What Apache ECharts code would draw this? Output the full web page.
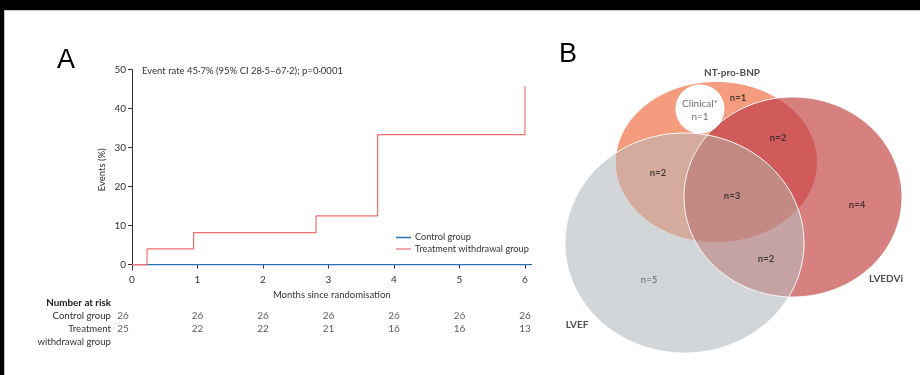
<!DOCTYPE html>
<html><head><meta charset="utf-8">
<script src="https://cdn.jsdelivr.net/npm/echarts@6/dist/echarts.min.js"></script>
<style>html,body{margin:0;padding:0;background:#fff}#c{width:920px;height:375px}</style>
</head><body><div id="c"></div>
<script>
// ---------- Panel A data ----------
const months = [0, 1, 2, 3, 4, 5, 6];
const riskGroups = ['Control group', 'Treatment withdrawal group'];
const controlAtRisk = [26, 26, 26, 26, 26, 26, 26];
const treatmentAtRisk = [25, 22, 22, 21, 16, 16, 13];
const controlTimes = [0, 6.08];
const controlEvents = [0, 0];
const treatmentTimes = [0, 0.23, 0.94, 2.81, 3.75, 6];
const treatmentEvents = [0, 4.0, 8.2, 12.5, 33.3, 45.7];
const yTicks = [0, 10, 20, 30, 40, 50];
const eventRateText = 'Event rate 45·7% (95% CI 28·5–67·2); p=0·0001';

// ---------- Panel B data ----------
const vennSetNames = ['NT-pro-BNP', 'LVEDVi', 'LVEF'];
const vennRegionNames = ['NT-pro-BNP only', 'NT-pro-BNP+LVEDVi', 'NT-pro-BNP+LVEF', 'All three', 'LVEDVi only', 'LVEDVi+LVEF', 'LVEF only'];
const vennRegionCounts = [1, 2, 2, 3, 4, 2, 5];
const clinicalName = 'Clinical*';
const clinicalCount = 1;

// ---------- layout (positions/styles only) ----------
const FONT = 'Lato';
const ell = {
  O: {cx: 156.5, cy: 122, rx: 100.5, ry: 80},
  R: {cx: 233, cy: 157, rx: 109, ry: 100},
  G: {cx: 124.5, cy: 203, rx: 119.5, ry: 110}
};
const clinicalCircle = {cx: 140, cy: 69, rx: 24.5, ry: 24.5};
const regionPos = [[178, 58], [218, 98], [98, 133], [172, 156], [297, 165], [206, 219], [89, 240]];
const regionBold = [true, true, true, true, true, true, false];
const setPos = [[172, 33], [326, 239], [17, 285]];
const clinicalPos = [140, 70.5];

function ellPts(e, n) {
  const p = [];
  for (let i = 0; i < n; i++) {
    const t = i / n * Math.PI * 2;
    p.push([e.cx + e.rx * Math.cos(t), e.cy + e.ry * Math.sin(t)]);
  }
  return p;
}
function inside(e, x, y) {
  const dx = (x - e.cx) / e.rx, dy = (y - e.cy) / e.ry;
  return dx * dx + dy * dy <= 1.0001;
}
function interPoly(list) {
  const pts = [];
  list.forEach((e, i) => {
    ellPts(e, 1440).forEach(p => {
      if (list.every((f, j) => j === i || inside(f, p[0], p[1]))) pts.push(p);
    });
  });
  let cx = 0, cy = 0;
  pts.forEach(p => { cx += p[0]; cy += p[1]; });
  cx /= pts.length; cy /= pts.length;
  pts.sort((a, b) => Math.atan2(a[1] - cy, a[0] - cx) - Math.atan2(b[1] - cy, b[0] - cx));
  return pts;
}
const vennShapes = [
  {poly: ellPts(ell.G, 360), fill: '#d3d6d9'},
  {poly: ellPts(ell.O, 360), fill: '#f59b7e'},
  {poly: ellPts(ell.R, 360), fill: '#d6817f'},
  {poly: interPoly([ell.O, ell.G]), fill: '#d4ab9c'},
  {poly: interPoly([ell.O, ell.R]), fill: '#d15a5a'},
  {poly: interPoly([ell.R, ell.G]), fill: '#c5a2a3'},
  {poly: interPoly([ell.O, ell.R, ell.G]), fill: '#c38a83'},
  {poly: ellPts(ell.G, 360), fill: 'none', stroke: '#ffffff', lw: 1},
  {poly: ellPts(ell.R, 360), fill: 'none', stroke: '#ffffff', lw: 1},
  {poly: ellPts(clinicalCircle, 120), fill: '#ffffff'}
];

const chart = echarts.init(document.getElementById('c'), null, {renderer: 'canvas'});

const riskData = [];
months.forEach((m, i) => {
  riskData.push({value: [m, riskGroups[0], controlAtRisk[i]], label: {offset: [i === 0 ? -9 : 0, 0]}});
  riskData.push({value: [m, riskGroups[1], treatmentAtRisk[i]], label: {offset: [i === 0 ? -9 : 0, 0]}});
});

const axisCol = '#333';
const option = {
  animation: false,
  backgroundColor: '#ffffff',
  textStyle: {fontFamily: FONT},
  grid: [
    {left: 132, top: 69.5, width: 399.5, height: 200.5},
    {left: 132, top: 309.5, width: 399.5, height: 26},
    {left: 560, top: 40, width: 360, height: 335}
  ],
  xAxis: [
    {
      gridIndex: 0, type: 'value', min: 0, max: 6.1,
      name: 'Months since randomisation', nameLocation: 'middle', nameGap: 20,
      nameTextStyle: {fontSize: 9.5, color: '#333', fontFamily: FONT},
      axisLine: {lineStyle: {color: axisCol, width: 1}},
      axisTick: {show: true, length: 4, lineStyle: {color: axisCol}, customValues: months},
      axisLabel: {fontSize: 10, color: '#333', margin: 5, fontFamily: FONT, customValues: months},
      splitLine: {show: false}
    },
    {gridIndex: 1, type: 'value', min: 0, max: 6.1, show: false},
    {gridIndex: 2, type: 'value', min: 0, max: 360, show: false}
  ],
  yAxis: [
    {
      gridIndex: 0, type: 'value', min: -1.4, max: 50,
      name: 'Events (%)', nameLocation: 'middle', nameGap: 25, nameRotate: 90,
      nameTextStyle: {fontSize: 9.5, color: '#333', fontFamily: FONT},
      axisLine: {show: true, lineStyle: {color: axisCol, width: 1}},
      axisTick: {show: true, length: 4, lineStyle: {color: axisCol}, customValues: yTicks},
      axisLabel: {fontSize: 10, color: '#333', margin: 6, fontFamily: FONT, customValues: yTicks},
      splitLine: {show: false}
    },
    {gridIndex: 1, type: 'category', data: riskGroups, inverse: true, show: false},
    {gridIndex: 2, type: 'value', min: 0, max: 335, inverse: true, show: false}
  ],
  legend: {
    data: ['Control group', 'Treatment withdrawal group'],
    orient: 'vertical', left: 391, top: 228,
    icon: 'rect', itemWidth: 15, itemHeight: 1.5, itemGap: 2.5,
    textStyle: {fontSize: 9.2, color: '#333', fontFamily: FONT, padding: [0, 0, 0, -1]}
  },
  series: [
    {
      name: 'Control group', type: 'line', xAxisIndex: 0, yAxisIndex: 0,
      data: controlTimes.map((t, i) => [t, controlEvents[i]]),
      step: 'end', symbol: 'none', showSymbol: false,
      lineStyle: {color: '#2c6fb3', width: 1.2}, itemStyle: {color: '#2c6fb3'}
    },
    {
      name: 'Treatment withdrawal group', type: 'line', xAxisIndex: 0, yAxisIndex: 0,
      data: treatmentTimes.map((t, i) => [t, treatmentEvents[i]]),
      step: 'end', symbol: 'none', showSymbol: false,
      lineStyle: {color: '#ef6f6f', width: 1.2}, itemStyle: {color: '#ec8a92'}
    },
    {
      name: 'risk', type: 'scatter', xAxisIndex: 1, yAxisIndex: 1,
      symbolSize: 0, data: riskData, silent: true,
      label: {show: true, position: 'inside', formatter: p => String(p.value[2]),
        fontSize: 10, color: '#333', fontFamily: FONT}
    },
    {
      name: 'venn', type: 'custom', xAxisIndex: 2, yAxisIndex: 2, silent: true, clip: false,
      data: vennShapes.map((s, i) => [i, i]),
      renderItem: function (params, api) {
        const s = vennShapes[params.dataIndex];
        return {
          type: 'polygon',
          shape: {points: s.poly.map(p => api.coord(p))},
          style: {fill: s.fill, stroke: s.stroke || null, lineWidth: s.lw || 0},
          silent: true
        };
      }
    },
    {
      name: 'vennRegions', type: 'scatter', xAxisIndex: 2, yAxisIndex: 2, symbolSize: 0, silent: true,
      data: vennRegionCounts.map((c, i) => ({
        value: [regionPos[i][0], regionPos[i][1], c], name: vennRegionNames[i],
        label: {fontWeight: regionBold[i] ? 'bold' : 'normal', color: regionBold[i] ? '#222' : '#444'}
      })),
      label: {show: true, position: 'inside', formatter: p => 'n=' + p.value[2], fontSize: 9.5, fontFamily: FONT}
    },
    {
      name: 'vennSets', type: 'scatter', xAxisIndex: 2, yAxisIndex: 2, symbolSize: 0, silent: true,
      data: vennSetNames.map((n, i) => ({value: [setPos[i][0], setPos[i][1]], name: n})),
      label: {show: true, position: 'inside', formatter: p => p.name, fontSize: 10, fontWeight: 'bold', color: '#222', fontFamily: FONT}
    },
    {
      name: 'clinical', type: 'scatter', xAxisIndex: 2, yAxisIndex: 2, symbolSize: 0, silent: true,
      data: [{value: [clinicalPos[0], clinicalPos[1], clinicalCount], name: clinicalName}],
      label: {show: true, position: 'inside', formatter: p => p.name + '\nn=' + p.value[2],
        fontSize: 10, lineHeight: 13, color: '#4a4a5e', fontFamily: FONT}
    }
  ],
  graphic: [
    {type: 'rect', shape: {x: 0, y: 0, width: 920, height: 10}, style: {fill: '#000'}, silent: true},
    {type: 'rect', shape: {x: 0, y: 0, width: 4, height: 375}, style: {fill: '#000'}, silent: true},
    {type: 'line', shape: {x1: 4, y1: 10.5, x2: 920, y2: 10.5}, style: {stroke: '#c8c8c8', lineWidth: 1}, silent: true},
    {type: 'line', shape: {x1: 4.5, y1: 10, x2: 4.5, y2: 375}, style: {stroke: '#c8c8c8', lineWidth: 1}, silent: true},
    {type: 'text', x: 57, y: 61, style: {text: 'A', fontSize: 27, fontFamily: 'Liberation Sans', fill: '#000', textVerticalAlign: 'middle'}},
    {type: 'text', x: 559, y: 55, style: {text: 'B', fontSize: 27, fontFamily: 'Liberation Sans', fill: '#000', textVerticalAlign: 'middle'}},
    {type: 'text', x: 142, y: 71, style: {text: eventRateText, fontSize: 9.5, fontFamily: FONT, fill: '#333', textVerticalAlign: 'middle'}},
    {type: 'text', x: 111, y: 303, style: {text: 'Number at risk', fontSize: 9.8, fontWeight: 'bold', fontFamily: FONT, fill: '#222', textAlign: 'right', textVerticalAlign: 'middle'}},
    {type: 'text', x: 111, y: 316, style: {text: 'Control group', fontSize: 9.6, fontFamily: FONT, fill: '#333', textAlign: 'right', textVerticalAlign: 'middle'}},
    {type: 'text', x: 111, y: 329, style: {text: 'Treatment', fontSize: 9.6, fontFamily: FONT, fill: '#333', textAlign: 'right', textVerticalAlign: 'middle'}},
    {type: 'text', x: 111, y: 342, style: {text: 'withdrawal group', fontSize: 9.6, fontFamily: FONT, fill: '#333', textAlign: 'right', textVerticalAlign: 'middle'}}
  ]
};
chart.setOption(option);
</script>
</body></html>
